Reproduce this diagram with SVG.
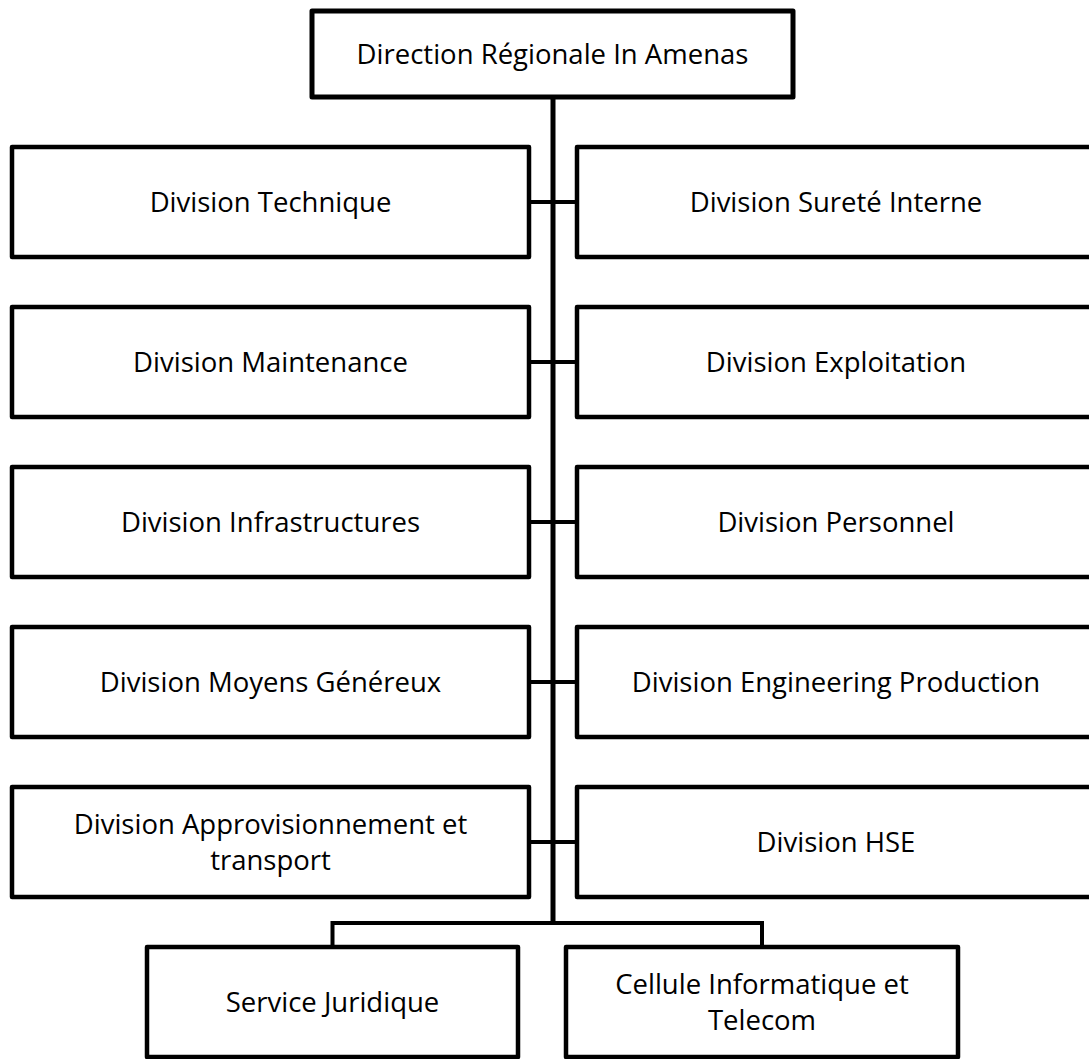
<svg xmlns="http://www.w3.org/2000/svg" width="1089" height="1059" viewBox="0 0 1089 1059">
  <style>
    .box { fill: #ffffff; stroke: #000000; stroke-width: 4.5; stroke-linejoin: round; }
    .top { stroke-width: 5; }
    .lbl { font-family: "Open Sans", "Noto Sans", "Liberation Sans", sans-serif; font-size: 27.5px; fill: #000000; text-anchor: middle; }
    .wire { fill: none; stroke: #000000; stroke-width: 4; stroke-linecap: butt; stroke-linejoin: miter; }
    .trunk { stroke-width: 5; }
  </style>
  <rect width="1089" height="1059" fill="#ffffff"/>

  <!-- connectors -->
  <g id="connectors">
    <line class="wire trunk" x1="553" y1="97" x2="553" y2="925"/>
    <line class="wire" x1="529" y1="202" x2="577" y2="202"/>
    <line class="wire" x1="529" y1="362" x2="577" y2="362"/>
    <line class="wire" x1="529" y1="522" x2="577" y2="522"/>
    <line class="wire" x1="529" y1="682" x2="577" y2="682"/>
    <line class="wire" x1="529" y1="842" x2="577" y2="842"/>
    <polyline class="wire" points="332.5,947 332.5,923 762,923 762,947"/>
  </g>

  <!-- top node -->
  <g id="direction">
    <rect class="box top" x="312" y="11" width="481" height="86"/>
    <text class="lbl" x="552.5" y="63.5">Direction Régionale In Amenas</text>
  </g>

  <!-- left column -->
  <g id="div-technique">
    <rect class="box" x="12" y="147" width="517" height="110"/>
    <text class="lbl" x="270.5" y="211.5">Division Technique</text>
  </g>
  <g id="div-maintenance">
    <rect class="box" x="12" y="307" width="517" height="110"/>
    <text class="lbl" x="270.5" y="371.5">Division Maintenance</text>
  </g>
  <g id="div-infrastructures">
    <rect class="box" x="12" y="467" width="517" height="110"/>
    <text class="lbl" x="270.5" y="531.5">Division Infrastructures</text>
  </g>
  <g id="div-moyens">
    <rect class="box" x="12" y="627" width="517" height="110"/>
    <text class="lbl" x="270.5" y="691.5">Division Moyens Généreux</text>
  </g>
  <g id="div-approvisionnement">
    <rect class="box" x="12" y="787" width="517" height="110"/>
    <text class="lbl" x="270.5" y="834">Division Approvisionnement et</text>
    <text class="lbl" x="270.5" y="870">transport</text>
  </g>

  <!-- right column -->
  <g id="div-surete">
    <rect class="box" x="577" y="147" width="520" height="110"/>
    <text class="lbl" x="836" y="211.5">Division Sureté Interne</text>
  </g>
  <g id="div-exploitation">
    <rect class="box" x="577" y="307" width="520" height="110"/>
    <text class="lbl" x="836" y="371.5">Division Exploitation</text>
  </g>
  <g id="div-personnel">
    <rect class="box" x="577" y="467" width="520" height="110"/>
    <text class="lbl" x="836" y="531.5">Division Personnel</text>
  </g>
  <g id="div-engineering">
    <rect class="box" x="577" y="627" width="520" height="110"/>
    <text class="lbl" x="836" y="691.5">Division Engineering Production</text>
  </g>
  <g id="div-hse">
    <rect class="box" x="577" y="787" width="520" height="110"/>
    <text class="lbl" x="836" y="851.5">Division HSE</text>
  </g>

  <!-- bottom row -->
  <g id="service-juridique">
    <rect class="box" x="147" y="947" width="371" height="110"/>
    <text class="lbl" x="332.5" y="1011.5">Service Juridique</text>
  </g>
  <g id="cellule-informatique">
    <rect class="box" x="566" y="947" width="392" height="110"/>
    <text class="lbl" x="762" y="993.5">Cellule Informatique et</text>
    <text class="lbl" x="762" y="1029.5">Telecom</text>
  </g>
</svg>
